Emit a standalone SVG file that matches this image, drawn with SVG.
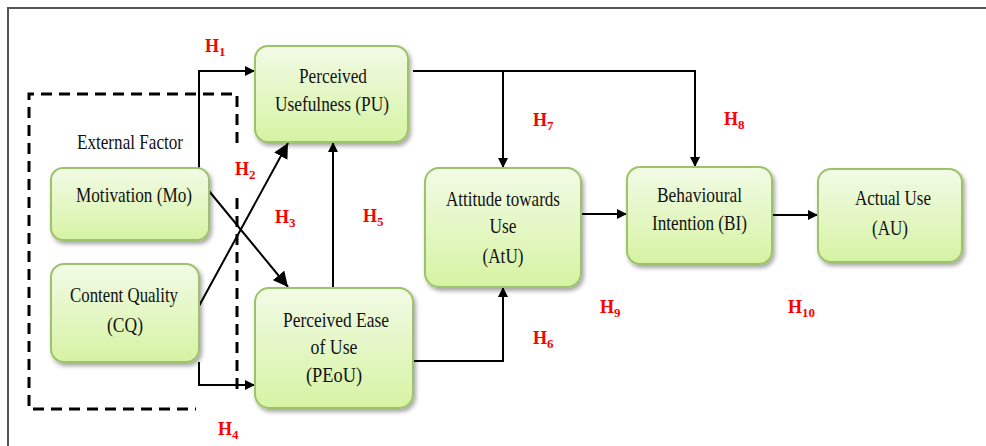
<svg xmlns="http://www.w3.org/2000/svg" width="986" height="446" viewBox="0 0 986 446">
<defs>
<linearGradient id="g" x1="0" y1="0" x2="0" y2="1">
<stop offset="0" stop-color="#f2fbe6"/>
<stop offset="1" stop-color="#d6f3a3"/>
</linearGradient>
<filter id="sh" x="-10%" y="-10%" width="125%" height="130%">
<feDropShadow dx="2" dy="3" stdDeviation="2" flood-color="#000" flood-opacity="0.35"/>
</filter>
<marker id="a" viewBox="0 0 10 10" refX="10" refY="5" markerWidth="10" markerHeight="10" markerUnits="userSpaceOnUse" orient="auto">
<path d="M0,0 L10,5 L0,10 z" fill="#000"/>
</marker>
<marker id="b" viewBox="0 0 10 10" refX="10" refY="5" markerWidth="15" markerHeight="15" markerUnits="userSpaceOnUse" orient="auto">
<path d="M0,0 L10,5 L0,10 z" fill="#000"/>
</marker>
<style>
.box{fill:url(#g);stroke:#9dc36a;stroke-width:2;filter:url(#sh)}
.t{font-family:"Liberation Serif","Times New Roman",serif;font-size:22px;fill:#111;text-anchor:middle}
.h{font-family:"Liberation Serif","Times New Roman",serif;font-size:18px;font-weight:bold;fill:#ff0000}
.s{font-size:13px}
.c{fill:none;stroke:#000;stroke-width:2}
.d{fill:none;stroke:#000;stroke-width:3;stroke-dasharray:11 7}
</style>
</defs>
<rect width="986" height="446" fill="#fff"/>
<path d="M8,446 L8,8 L986,8" fill="none" stroke="#555" stroke-width="2"/>

<g id="external-factor">
<path class="d" d="M237,143 L237,94 L29,94 L29,409 L196,409"/>
<path class="d" d="M237,198 L237,395"/>
<text class="t" x="130" y="149" textLength="106" lengthAdjust="spacingAndGlyphs">External Factor</text>
</g>

<g id="connectors">
<path class="c" d="M199,168 L199,71 L255,71" marker-end="url(#a)"/>
<path class="c" d="M209,191 L288,287" marker-end="url(#b)"/>
<path class="c" d="M199,306 L288,143" marker-end="url(#b)"/>
<path class="c" d="M199,362 L199,385 L255,385" marker-end="url(#a)"/>
<path class="c" d="M333,288 L333,142" marker-end="url(#a)"/>
<path class="c" d="M413,71 L695,71 L695,167" marker-end="url(#a)"/>
<path class="c" d="M503,71 L503,168" marker-end="url(#a)"/>
<path class="c" d="M413,361 L503,361 L503,287" marker-end="url(#a)"/>
<path class="c" d="M581,214 L627,214" marker-end="url(#a)"/>
<path class="c" d="M772,215 L818,215" marker-end="url(#a)"/>
</g>

<g id="PU">
<rect class="box" x="255" y="46" width="153" height="96" rx="13"/>
<text class="t" x="333" y="83" textLength="68" lengthAdjust="spacingAndGlyphs">Perceived</text>
<text class="t" x="332" y="111" textLength="114" lengthAdjust="spacingAndGlyphs">Usefulness (PU)</text>
</g>
<g id="Mo">
<rect class="box" x="51" y="168" width="158" height="72" rx="12"/>
<text class="t" x="134" y="202" textLength="116" lengthAdjust="spacingAndGlyphs">Motivation (Mo)</text>
</g>
<g id="CQ">
<rect class="box" x="51" y="264" width="148" height="98" rx="13"/>
<text class="t" x="124" y="302" textLength="108" lengthAdjust="spacingAndGlyphs">Content Quality</text>
<text class="t" x="125" y="332" textLength="36" lengthAdjust="spacingAndGlyphs">(CQ)</text>
</g>
<g id="PEoU">
<rect class="box" x="255" y="288" width="158" height="120" rx="14"/>
<text class="t" x="336" y="327" textLength="106" lengthAdjust="spacingAndGlyphs">Perceived Ease</text>
<text class="t" x="334" y="354" textLength="47" lengthAdjust="spacingAndGlyphs">of Use</text>
<text class="t" x="334" y="382" textLength="56" lengthAdjust="spacingAndGlyphs">(PEoU)</text>
</g>
<g id="AtU">
<rect class="box" x="425" y="168" width="156" height="119" rx="14"/>
<text class="t" x="503" y="206" textLength="114" lengthAdjust="spacingAndGlyphs">Attitude towards</text>
<text class="t" x="503" y="233" textLength="27" lengthAdjust="spacingAndGlyphs">Use</text>
<text class="t" x="503" y="263" textLength="41" lengthAdjust="spacingAndGlyphs">(AtU)</text>
</g>
<g id="BI">
<rect class="box" x="627" y="167" width="145" height="97" rx="13"/>
<text class="t" x="699.5" y="202" textLength="85" lengthAdjust="spacingAndGlyphs">Behavioural</text>
<text class="t" x="699.5" y="230" textLength="95" lengthAdjust="spacingAndGlyphs">Intention (BI)</text>
</g>
<g id="AU">
<rect class="box" x="818" y="169" width="144" height="93" rx="13"/>
<text class="t" x="893" y="205" textLength="76" lengthAdjust="spacingAndGlyphs">Actual Use</text>
<text class="t" x="890" y="235" textLength="36" lengthAdjust="spacingAndGlyphs">(AU)</text>
</g>

<g id="labels">
<text class="h" x="205" y="52">H<tspan class="s" dy="4">1</tspan></text>
<text class="h" x="235" y="175">H<tspan class="s" dy="4">2</tspan></text>
<text class="h" x="275" y="223">H<tspan class="s" dy="4">3</tspan></text>
<text class="h" x="218" y="435">H<tspan class="s" dy="4">4</tspan></text>
<text class="h" x="363" y="222">H<tspan class="s" dy="4">5</tspan></text>
<text class="h" x="533" y="344">H<tspan class="s" dy="4">6</tspan></text>
<text class="h" x="533" y="126">H<tspan class="s" dy="4">7</tspan></text>
<text class="h" x="724" y="125">H<tspan class="s" dy="4">8</tspan></text>
<text class="h" x="600" y="313">H<tspan class="s" dy="4">9</tspan></text>
<text class="h" x="788" y="313">H<tspan class="s" dy="4">10</tspan></text>
</g>
</svg>
